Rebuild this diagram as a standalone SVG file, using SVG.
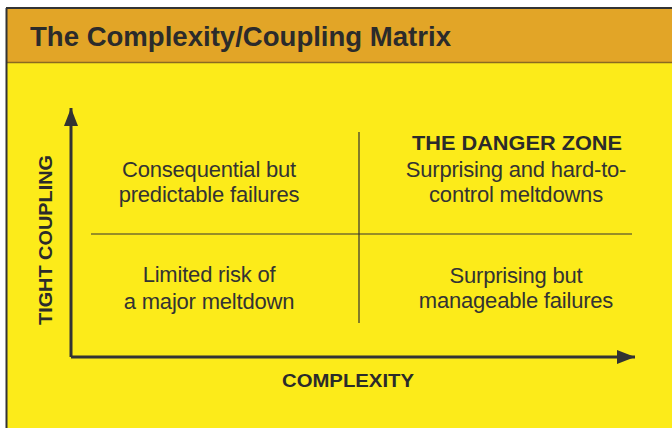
<svg xmlns="http://www.w3.org/2000/svg" width="672" height="428" viewBox="0 0 672 428">
<style>
.q{font-family:"Liberation Sans",Arial,sans-serif;font-size:22px;fill:#333;text-anchor:middle;letter-spacing:-0.2px}
.b{font-family:"Liberation Sans",Arial,sans-serif;font-weight:bold;fill:#2b2b2b;text-anchor:middle}
.ax{stroke:#333;stroke-width:3;fill:none}
.dv{stroke:#333;stroke-width:1.2;fill:none}
</style>
<defs>
<marker id="ah" markerUnits="userSpaceOnUse" markerWidth="20" markerHeight="16" refX="18" refY="7" orient="auto">
<path d="M0,0 L18,7 L0,14 Z" fill="#333"/>
</marker>
</defs>
<rect x="0" y="0" width="672" height="428" fill="#ffffff"/>
<g id="frame">
<rect x="7" y="9" width="670" height="425" fill="#FCEB1A"/>
<rect x="7" y="9" width="670" height="53" fill="#E2A527"/>
<line x1="7" y1="62.5" x2="672" y2="62.5" stroke="#8a6a20" stroke-width="1.5"/>
<line x1="6" y1="8" x2="672" y2="8" stroke="#333" stroke-width="2"/>
<line x1="6.5" y1="8" x2="6.5" y2="428" stroke="#333" stroke-width="2"/>
<text x="30" y="45.5" font-family="'Liberation Sans',Arial,sans-serif" font-weight="bold" font-size="27.5" fill="#2b2b2b" textLength="421" lengthAdjust="spacingAndGlyphs">The Complexity/Coupling Matrix</text>
</g>
<g id="connectors">
<line class="ax" x1="71" y1="357" x2="71" y2="108" marker-end="url(#ah)"/>
<line class="ax" x1="71" y1="357" x2="635" y2="357" marker-end="url(#ah)"/>
<line class="dv" x1="359" y1="132" x2="359" y2="323"/>
<line class="dv" x1="91" y1="234" x2="632" y2="234"/>
</g>
<g id="axis-y"><text class="b" font-size="18" transform="translate(52,240) rotate(-90)" textLength="170" lengthAdjust="spacingAndGlyphs">TIGHT COUPLING</text></g>
<g id="axis-x"><text class="b" font-size="18" x="348" y="387" textLength="132" lengthAdjust="spacingAndGlyphs">COMPLEXITY</text></g>
<g id="q-top-left">
<text class="q" x="209" y="177">Consequential but</text>
<text class="q" x="209" y="202">predictable failures</text>
</g>
<g id="q-top-right">
<text class="b" font-size="20" x="517" y="150" textLength="210" lengthAdjust="spacingAndGlyphs">THE DANGER ZONE</text>
<text class="q" x="516" y="177">Surprising and hard-to-</text>
<text class="q" x="516" y="202">control meltdowns</text>
</g>
<g id="q-bottom-left">
<text class="q" x="209" y="282">Limited risk of</text>
<text class="q" x="209" y="309">a major meltdown</text>
</g>
<g id="q-bottom-right">
<text class="q" x="516" y="283">Surprising but</text>
<text class="q" x="516" y="308">manageable failures</text>
</g>
</svg>
